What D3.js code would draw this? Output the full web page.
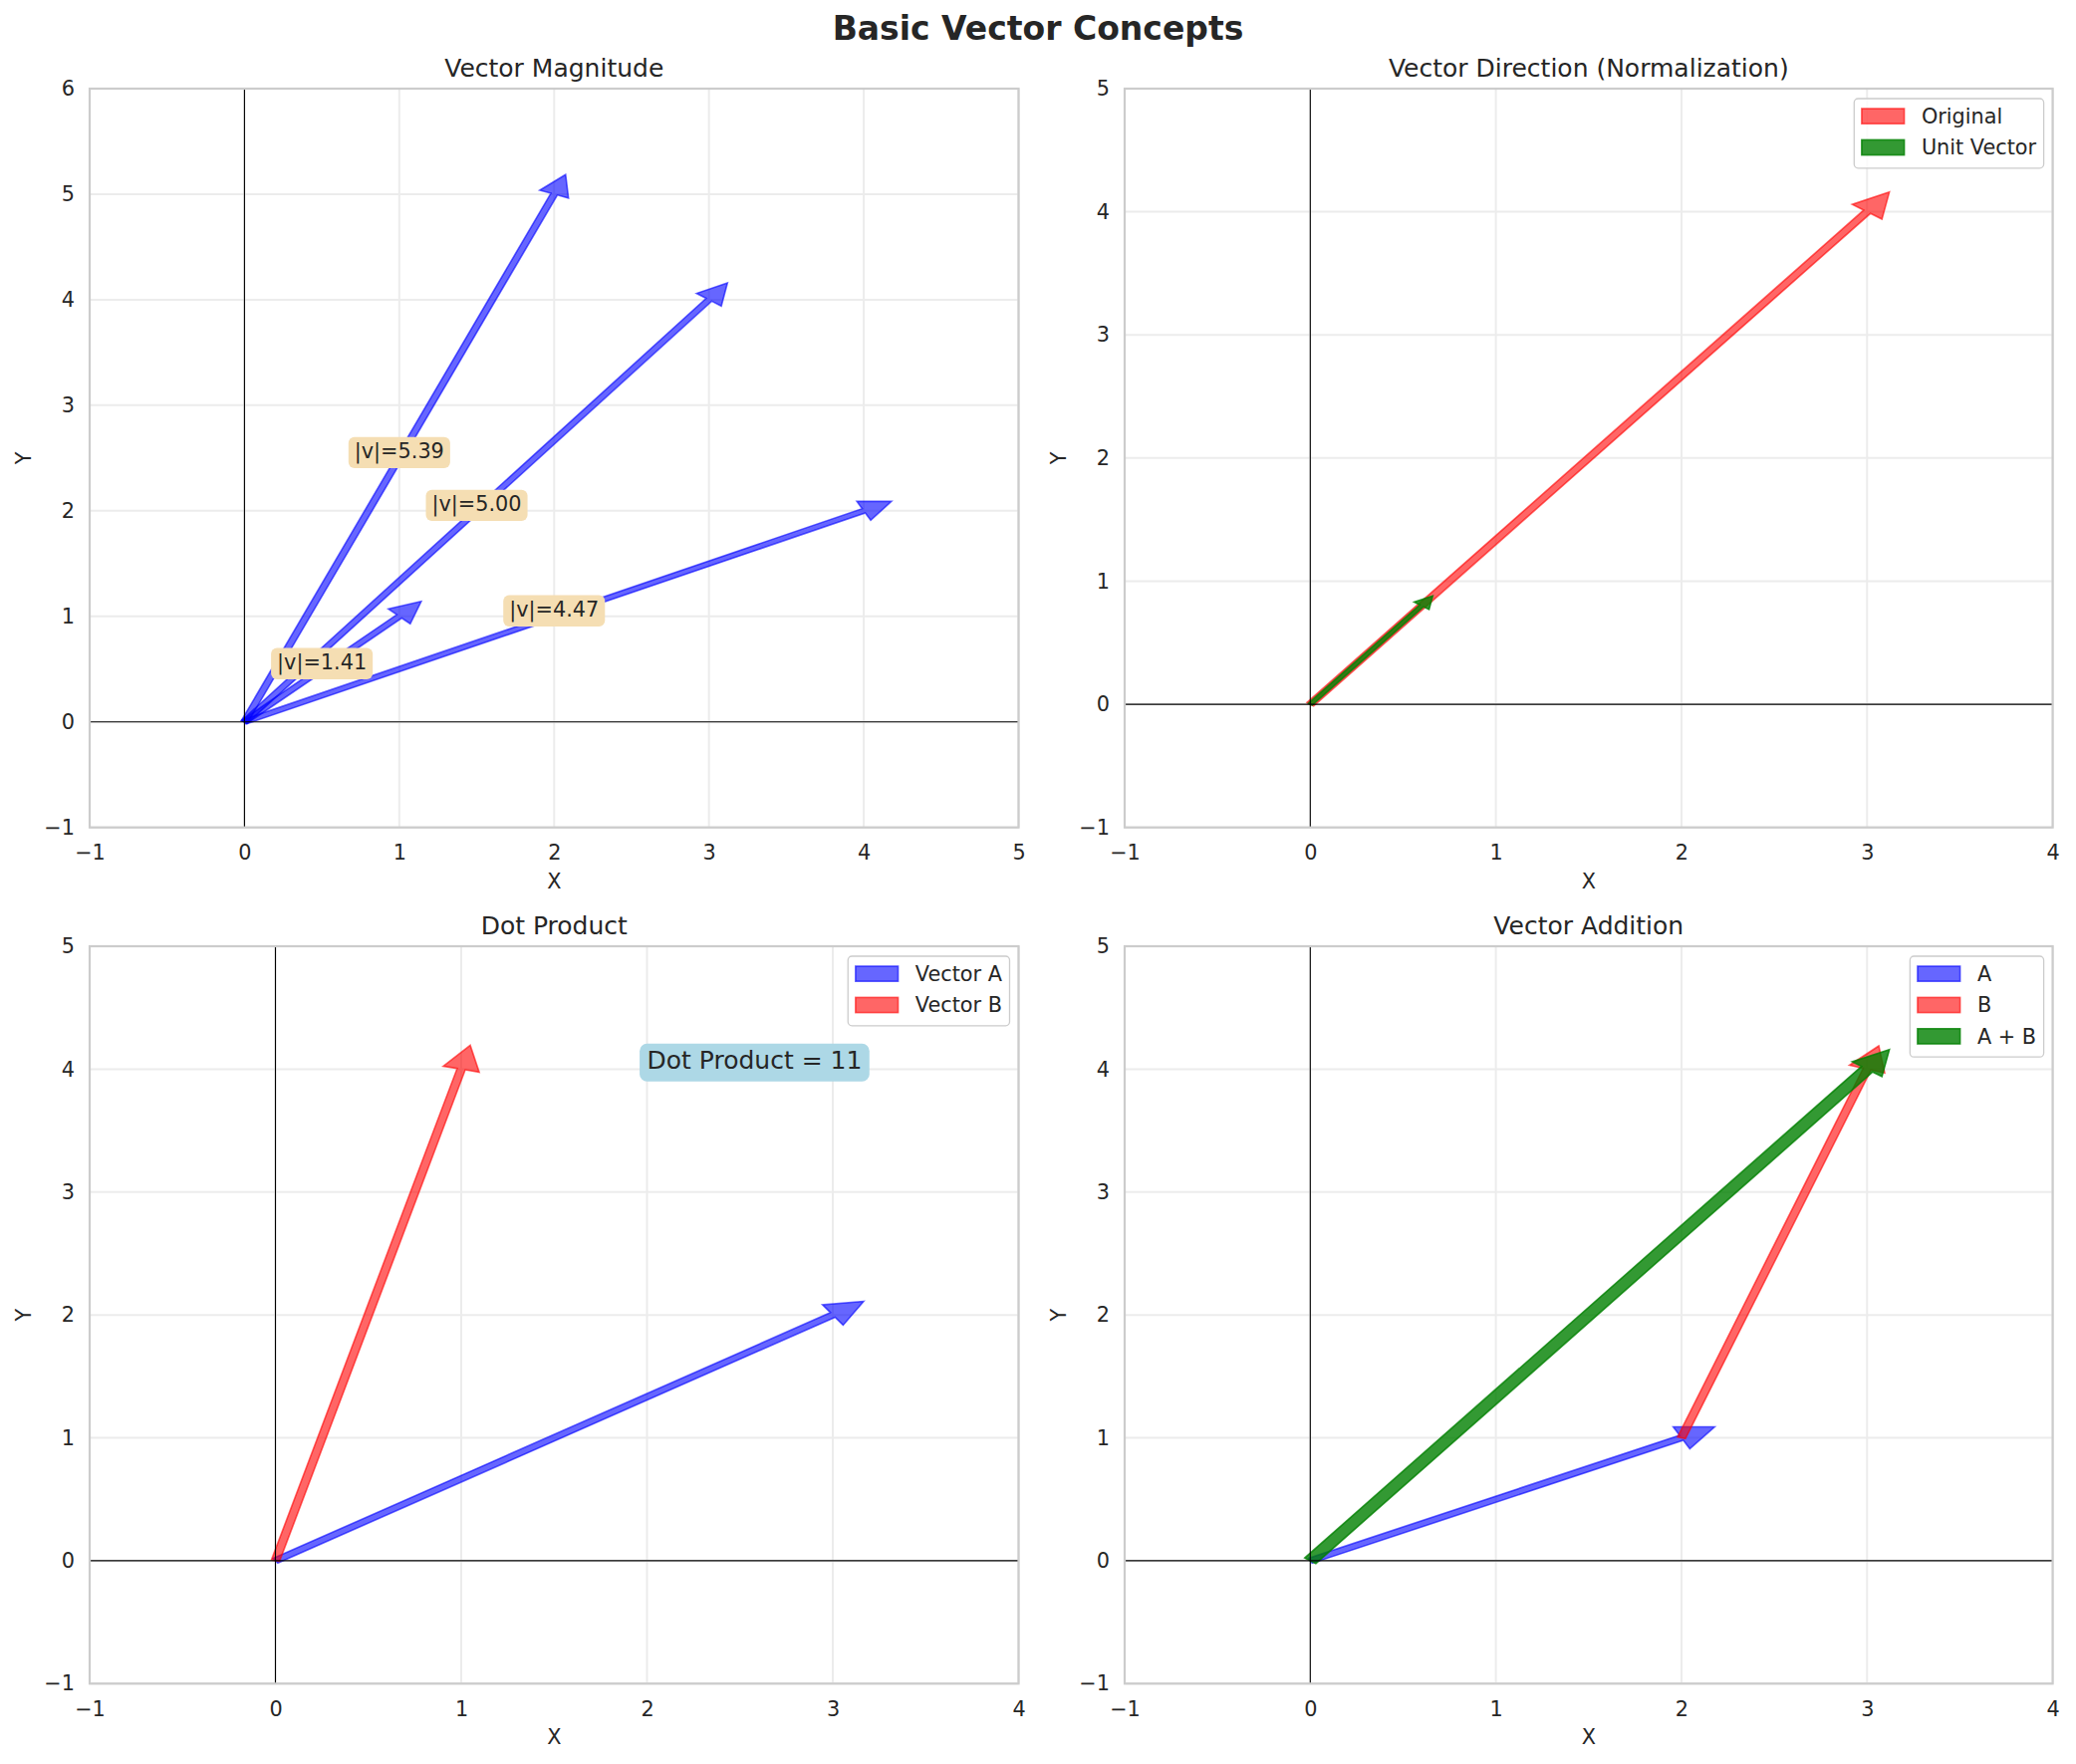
<!DOCTYPE html>
<html><head><meta charset="utf-8">
<script src="https://cdn.jsdelivr.net/npm/d3@7"></script>
<style>
body{margin:0;background:#fff}
svg{display:block}
text{font-family:"DejaVu Sans",sans-serif;fill:#262626}
</style>
</head><body><svg id="c" width="2084" height="1771"></svg>
<script>
// ---------------- data ----------------
const figureTitle = "Basic Vector Concepts";
const panelTitles = ["Vector Magnitude","Vector Direction (Normalization)","Dot Product","Vector Addition"];
const magnitudeVectors = [[1,1],[2,5],[3,4],[4,2]];
const originalVector = [3,4];
const unitVector = [0.6,0.8];
const dotVectorA = [3,2];
const dotVectorB = [1,4];
const dotProductLabel = "Dot Product = 11";
const dotLabelPos = [2,4];
const addVectorA = [2,1];
const addVectorB = [1,3];
const addVectorSum = [3,4];
const magXTicks = [-1,0,1,2,3,4,5];
const magYTicks = [-1,0,1,2,3,4,5,6];
const stdXTicks = [-1,0,1,2,3,4];
const stdYTicks = [-1,0,1,2,3,4,5];
const legendDirection = ["Original","Unit Vector"];
const legendDot = ["Vector A","Vector B"];
const legendAdd = ["A","B","A + B"];

// ---------------- styling ----------------
const FS = 20.8;
const COL = {blue:"#0000ff", red:"#ff0000", green:"#008000"};
const svg = d3.select("#c");
const tickFmt = d3.format("d");

svg.append("text").attr("x",1042).attr("y",40).attr("text-anchor","middle")
  .style("font-size","33px").style("font-weight","bold").text(figureTitle);

function arrowPoly(x, y, dx, dy, width, hw, hl) {
  const dist = Math.hypot(dx, dy), len = dist + hl;
  const c = dx / dist, s = dy / dist;
  const pts = [[len,0],[dist,hw/2],[dist,width/2],[0,width/2],[0,-width/2],[dist,-width/2],[dist,-hw/2]];
  return pts.map(([u,v]) => [x + u*c - v*s, y + u*s + v*c]);
}

function panel(cfg) {
  const {x0,x1,y0,y1,xd,yd,xt,yt,title} = cfg;
  const xs = d3.scaleLinear().domain(xd).range([x0,x1]);
  const ys = d3.scaleLinear().domain(yd).range([y1,y0]);
  const g = svg.append("g");
  // grid
  g.append("g").selectAll("line").data(xt).join("line")
    .attr("x1",d=>xs(d)).attr("x2",d=>xs(d)).attr("y1",y0).attr("y2",y1)
    .attr("stroke","#ececec").attr("stroke-width",2);
  g.append("g").selectAll("line").data(yt).join("line")
    .attr("y1",d=>ys(d)).attr("y2",d=>ys(d)).attr("x1",x0).attr("x2",x1)
    .attr("stroke","#ececec").attr("stroke-width",2);
  const arrowsG = g.append("g");
  const zeroG = g.append("g");
  zeroG.append("line").attr("x1",x0).attr("x2",x1).attr("y1",ys(0)).attr("y2",ys(0))
    .attr("stroke","#000").attr("stroke-width",1.1);
  zeroG.append("line").attr("x1",xs(0)).attr("x2",xs(0)).attr("y1",y0).attr("y2",y1)
    .attr("stroke","#000").attr("stroke-width",1.1);
  g.append("rect").attr("x",x0).attr("y",y0).attr("width",x1-x0).attr("height",y1-y0)
    .attr("fill","none").attr("stroke","#cccccc").attr("stroke-width",2.2);
  // axes
  const ax = g.append("g").attr("transform",`translate(0,${y1})`)
    .call(d3.axisBottom(xs).tickValues(xt).tickFormat(tickFmt).tickSize(0).tickPadding(18));
  const ay = g.append("g").attr("transform",`translate(${x0},0)`)
    .call(d3.axisLeft(ys).tickValues(yt).tickFormat(tickFmt).tickSize(0).tickPadding(15));
  [ax,ay].forEach(a => {
    a.select(".domain").remove();
    a.selectAll("text").attr("fill","#262626").style("font-size",FS+"px")
      .style("font-family","'DejaVu Sans',sans-serif");
  });
  g.append("text").attr("x",(x0+x1)/2).attr("y",y0-12.5).attr("text-anchor","middle")
    .style("font-size","25px").text(title);
  g.append("text").attr("x",(x0+x1)/2).attr("y",y1+61).attr("text-anchor","middle")
    .style("font-size",FS+"px").text("X");
  g.append("text").attr("transform",`translate(${x0-59},${(y0+y1)/2}) rotate(-90)`)
    .attr("text-anchor","middle").style("font-size",FS+"px").text("Y");
  const topG = g.append("g");
  function arrow(start, vec, color, alpha, width, hw, hl) {
    const pts = arrowPoly(start[0], start[1], vec[0], vec[1], width, hw, hl)
      .map(([px,py]) => [xs(px), ys(py)]);
    arrowsG.append("path").attr("d", d3.line()(pts) + "Z")
      .attr("fill", color).attr("fill-opacity", alpha)
      .attr("stroke", color).attr("stroke-opacity", alpha)
      .attr("stroke-width", 1.6).attr("stroke-linejoin","miter");
  }
  function legend(items) {
    const padL = 7.6, sw = 42.7, gap = 17.3, padR = 7.5, row = 31.4;
    const lg = topG.append("g");
    const frame = lg.append("rect");
    let maxW = 0;
    items.forEach((it, i) => {
      const cy = y0 + 10 + 17.6 + i*row;
      lg.append("rect").attr("y", cy-7.6).attr("height",15.2).attr("width",sw)
        .attr("fill",it.color).attr("fill-opacity",it.alpha)
        .attr("stroke",it.color).attr("stroke-opacity",it.alpha).attr("stroke-width",1.6)
        .attr("class","sw");
      const t = lg.append("text").attr("y", cy + 7.4).style("font-size",FS+"px").text(it.label).attr("class","lt");
      maxW = Math.max(maxW, t.node().getComputedTextLength());
    });
    const w = padL + sw + gap + maxW + padR;
    const lx = x1 - 9 - w;
    const h = 17.6 + (items.length-1)*row + 20.8;
    frame.attr("x",lx).attr("y",y0+10).attr("width",w).attr("height",h).attr("rx",4)
      .attr("fill","#fff").attr("fill-opacity",0.8).attr("stroke","#cccccc").attr("stroke-width",1.3);
    lg.selectAll(".sw").attr("x", lx + padL);
    lg.selectAll(".lt").attr("x", lx + padL + sw + gap);
  }
  function boxText(pos, label, fs, pad, fill, anchor) {
    const bx = xs(pos[0]), by = ys(pos[1]);
    const r = topG.append("rect");
    const t = topG.append("text").attr("x",bx).attr("y",by).attr("text-anchor",anchor)
      .style("font-size",fs+"px").text(label);
    const w = t.node().getComputedTextLength();
    const left = anchor === "middle" ? bx - w/2 : bx;
    r.attr("x",left-pad).attr("y",by-(0.73*fs+pad)).attr("width",w+2*pad)
      .attr("height",0.73*fs+pad+0.2*fs+pad).attr("rx",pad).attr("fill",fill);
  }
  return {xs, ys, arrow, legend, boxText};
}

const L = {l0:90, l1:1022.5, r0:1129, r1:2060.6, t0:89, t1:830.7, b0:950, b1:1690.3};

// Panel 1: magnitude
const p1 = panel({x0:L.l0,x1:L.l1,y0:L.t0,y1:L.t1,xd:[-1,5],yd:[-1,6],xt:magXTicks,yt:magYTicks,title:panelTitles[0]});
magnitudeVectors.forEach(v => p1.arrow([0,0], v, COL.blue, 0.6, 0.045, 0.2, 0.2));
magnitudeVectors.forEach(v => p1.boxText([v[0]/2, v[1]/2], "|v|=" + d3.format(".2f")(Math.hypot(v[0],v[1])), FS, 6, "#f5deb3", "middle"));

// Panel 2: direction
const p2 = panel({x0:L.r0,x1:L.r1,y0:L.t0,y1:L.t1,xd:[-1,4],yd:[-1,5],xt:stdXTicks,yt:stdYTicks,title:panelTitles[1]});
p2.arrow([0,0], originalVector, COL.red, 0.6, 0.045, 0.2, 0.2);
p2.arrow([0,0], unitVector, COL.green, 0.8, 0.025, 0.1, 0.1);
p2.legend([{label:legendDirection[0],color:COL.red,alpha:0.6},{label:legendDirection[1],color:COL.green,alpha:0.8}]);

// Panel 3: dot product
const p3 = panel({x0:L.l0,x1:L.l1,y0:L.b0,y1:L.b1,xd:[-1,4],yd:[-1,5],xt:stdXTicks,yt:stdYTicks,title:panelTitles[2]});
p3.arrow([0,0], dotVectorA, COL.blue, 0.6, 0.045, 0.2, 0.2);
p3.arrow([0,0], dotVectorB, COL.red, 0.6, 0.045, 0.2, 0.2);
p3.legend([{label:legendDot[0],color:COL.blue,alpha:0.6},{label:legendDot[1],color:COL.red,alpha:0.6}]);
p3.boxText(dotLabelPos, dotProductLabel, 25, 7.4, "#add8e6", "start");

// Panel 4: addition
const p4 = panel({x0:L.r0,x1:L.r1,y0:L.b0,y1:L.b1,xd:[-1,4],yd:[-1,5],xt:stdXTicks,yt:stdYTicks,title:panelTitles[3]});
p4.arrow([0,0], addVectorA, COL.blue, 0.6, 0.045, 0.2, 0.2);
p4.arrow(addVectorA, addVectorB, COL.red, 0.6, 0.045, 0.2, 0.2);
p4.arrow([0,0], addVectorSum, COL.green, 0.8, 0.075, 0.2, 0.2);
p4.legend([{label:legendAdd[0],color:COL.blue,alpha:0.6},{label:legendAdd[1],color:COL.red,alpha:0.6},{label:legendAdd[2],color:COL.green,alpha:0.8}]);
</script>
</body></html>
